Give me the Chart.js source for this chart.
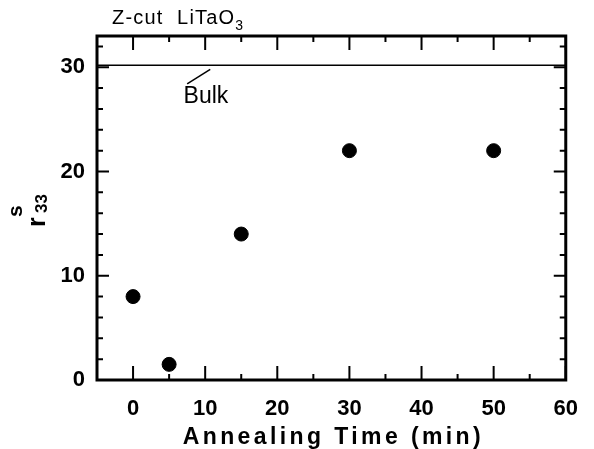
<!DOCTYPE html>
<html>
<head>
<meta charset="utf-8">
<script src="https://cdn.jsdelivr.net/npm/chart.js@4.4.0/dist/chart.umd.min.js"></script>
<style>
    html, body { margin: 0; padding: 0; background: #fff; }
    #wrap { width: 594px; height: 449px; }
</style>
</head>
<body>
<div id="wrap"><canvas id="r33Chart" width="594" height="449"></canvas></div>
<script>
// data
const annealTimes = [0, 5, 15, 30, 50];
const r33Values = [8, 1.5, 14, 22, 22];
const bulkValue = 30.2;

const xRange = [-5, 60];
const yRange = [0, 33];
const xTickLabels = [0, 10, 20, 30, 40, 50, 60];
const xMinorTicks = [5, 15, 25, 35, 45, 55];
const yTickLabels = [0, 10, 20, 30];
const yMinorTicks = [2, 4, 6, 8, 12, 14, 16, 18, 22, 24, 26, 28, 32];

const FONT = '"Liberation Sans", Arial, Helvetica, sans-serif';

let points = annealTimes.map((t, i) => ({x: t, y: r33Values[i]}));
let bulkLine = [{x: xRange[0], y: bulkValue}, {x: xRange[1], y: bulkValue}];

// frame, inward ticks, labels that chart.js can't do itself
const decorations = {
    id: 'decorations',
    afterDraw(chart) {
        const ctx = chart.ctx;
        const xs = chart.scales.x, ys = chart.scales.y;
        const a = chart.chartArea;
        ctx.save();
        ctx.strokeStyle = '#000';
        ctx.lineWidth = 2;
        let tick = (v, len, isX) => {
            ctx.beginPath();
            if (isX) {
                let px = xs.getPixelForValue(v);
                ctx.moveTo(px, a.bottom); ctx.lineTo(px, a.bottom - len);
                ctx.moveTo(px, a.top); ctx.lineTo(px, a.top + len);
            } else {
                let py = ys.getPixelForValue(v);
                ctx.moveTo(a.left, py); ctx.lineTo(a.left + len, py);
                ctx.moveTo(a.right, py); ctx.lineTo(a.right - len, py);
            }
            ctx.stroke();
        };
        xTickLabels.forEach(v => tick(v, 14, true));
        xMinorTicks.forEach(v => tick(v, 6, true));
        yTickLabels.forEach(v => tick(v, 12, false));
        yMinorTicks.forEach(v => tick(v, 6, false));

        // frame
        ctx.lineWidth = 3;
        ctx.strokeRect(a.left, a.top, a.right - a.left, a.bottom - a.top);

        // Bulk label and leader
        ctx.lineWidth = 1.5;
        ctx.beginPath();
        ctx.moveTo(xs.getPixelForValue(7.5), ys.getPixelForValue(28.4));
        ctx.lineTo(xs.getPixelForValue(10.7), ys.getPixelForValue(29.8));
        ctx.stroke();
        ctx.fillStyle = '#000';
        ctx.font = '23px ' + FONT;
        ctx.textBaseline = 'alphabetic';
        ctx.textAlign = 'left';
        ctx.fillText('Bulk', xs.getPixelForValue(7), ys.getPixelForValue(26.6));

        // title Z-cut LiTaO3
        ctx.font = '20px ' + FONT;
        ctx.letterSpacing = '1.2px';
        let tx = 112, ty = 24;
        ctx.fillText('Z-cut  LiTaO', tx, ty);
        let w = ctx.measureText('Z-cut  LiTaO').width;
        ctx.font = '14px ' + FONT;
        ctx.fillText('3', tx + w, ty + 6);

        // x title, spaced out
        ctx.font = 'bold 23px ' + FONT;
        ctx.letterSpacing = '3.4px';
        ctx.textAlign = 'center';
        ctx.fillText('Annealing Time (min)', (a.left + a.right) / 2 + 2, 444);
        ctx.letterSpacing = '0px';
        ctx.textAlign = 'left';

        // y title r^s_33, rotated
        ctx.translate(45, 227);
        ctx.rotate(-Math.PI / 2);
        ctx.font = 'bold 25px ' + FONT;
        ctx.fillText('r', 0, 0);
        ctx.font = 'bold 17px ' + FONT;
        ctx.fillText('33', 14, 2);
        ctx.font = 'bold 21px ' + FONT;
        ctx.fillText('s', 10, -23);
        ctx.restore();
    }
};

const ctx = document.getElementById('r33Chart').getContext('2d');
const r33Chart = new Chart(ctx, {
    type: 'scatter',
    data: {
        datasets: [{
            label: 'r33',
            data: points,
            backgroundColor: '#000',
            borderColor: '#000',
            pointRadius: 7,
            pointHoverRadius: 7,
        }, {
            label: 'Bulk',
            data: bulkLine,
            showLine: true,
            borderColor: '#000',
            borderWidth: 1.5,
            pointRadius: 0,
        }]
    },
    options: {
        responsive: false,
        animation: false,
        layout: {
            padding: {top: 36, right: 28, left: 0, bottom: 0}
        },
        scales: {
            x: {
                type: 'linear',
                min: xRange[0],
                max: xRange[1],
                afterBuildTicks: (scale) => {
                    scale.ticks = xTickLabels.map(v => ({value: v}));
                },
                afterFit: (scale) => { scale.height = 69; },
                border: {display: false},
                grid: {display: false, drawTicks: false},
                ticks: {
                    padding: 16,
                    color: '#000',
                    maxRotation: 0,
                    font: {family: FONT, size: 22, weight: 'bold'}
                }
            },
            y: {
                type: 'linear',
                min: yRange[0],
                max: yRange[1],
                afterBuildTicks: (scale) => {
                    scale.ticks = yTickLabels.map(v => ({value: v}));
                },
                afterFit: (scale) => { scale.width = 97; },
                border: {display: false},
                grid: {display: false, drawTicks: false},
                ticks: {
                    padding: 12,
                    color: '#000',
                    font: {family: FONT, size: 22, weight: 'bold'}
                }
            }
        },
        plugins: {
            legend: {
                display: false,
            },
            tooltip: {enabled: false}
        }
    },
    plugins: [decorations]
});
</script>
</body>
</html>
